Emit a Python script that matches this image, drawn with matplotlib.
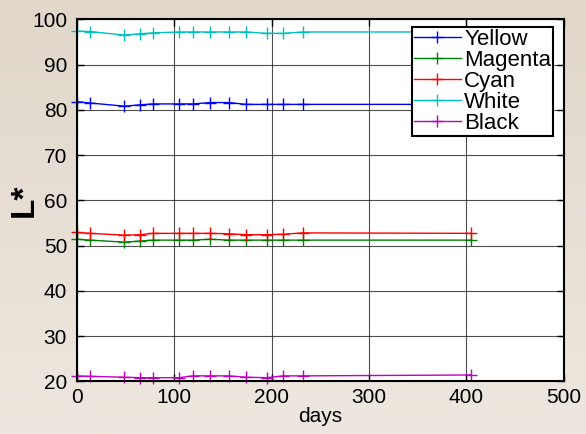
import numpy as np
import matplotlib
matplotlib.use('Agg')
import matplotlib.pyplot as plt

plt.rcParams['font.family'] = ['Liberation Sans', 'DejaVu Sans']

# dias de medicao
days = [0, 14, 49, 65, 78, 105, 119, 137, 156, 174, 195, 212, 232, 405]

# valores de L* por cor
yellow = [81.8, 81.5, 80.8, 81.1, 81.3, 81.3, 81.3, 81.6, 81.6, 81.2, 81.2, 81.2, 81.2, 81.2]
magenta = [51.4, 51.2, 50.75, 51.0, 51.2, 51.2, 51.2, 51.4, 51.2, 51.2, 51.2, 51.2, 51.2, 51.2]
cyan = [52.9, 52.7, 52.3, 52.4, 52.7, 52.7, 52.7, 52.7, 52.6, 52.4, 52.4, 52.5, 52.8, 52.7]
white = [97.4, 97.3, 96.5, 96.8, 97.0, 97.2, 97.2, 97.2, 97.2, 97.2, 96.9, 96.9, 97.2, 97.2]
black = [21.2, 21.1, 20.9, 20.8, 20.8, 20.8, 21.2, 21.2, 21.2, 20.9, 20.8, 21.2, 21.2, 21.4]

series = [('Yellow', yellow, '#0000ff'),
          ('Magenta', magenta, '#008000'),
          ('Cyan', cyan, '#ff0000'),
          ('White', white, '#00bfbf'),
          ('Black', black, '#bf00bf')]

fig = plt.figure(figsize=(5.86, 4.34), dpi=100)

# fundo bege em degrade
bg = fig.add_axes([0, 0, 1, 1], zorder=-10)
grad = np.linspace(0, 1, 256).reshape(-1, 1)
c_top = np.array([225, 215, 202]) / 255
c_bot = np.array([237, 231, 223]) / 255
img = c_top + grad[:, :, None] * (c_bot - c_top)
bg.imshow(img, aspect='auto', extent=[0, 1, 0, 1])
bg.axis('off')

ax = fig.add_axes([0.131, 0.1214, 0.831, 0.8341])
for nome, vals, cor in series:
    ax.plot(days, vals, color=cor, marker='+', markersize=8, linewidth=1,
            markeredgewidth=1, label=nome, clip_on=False)

ax.set_xlim(0, 500)
ax.set_ylim(20, 100)
ax.set_xticks(np.arange(0, 501, 100))
ax.set_yticks(np.arange(20, 101, 10))
ax.grid(True, color='#222222', linewidth=0.8, alpha=0.8)
ax.tick_params(direction='in', top=True, right=True, labelsize=15, length=5, width=1)
ax.tick_params(axis='x', pad=5)
ax.tick_params(axis='y', pad=7)
for s in ax.spines.values():
    s.set_linewidth(1.5)

ax.set_xlabel('days', fontsize=15, labelpad=0)
ax.set_ylabel('L*', fontsize=24, fontweight='bold')
ax.yaxis.set_label_coords(-0.076, 0.5)

leg = ax.legend(loc='upper left', bbox_to_anchor=(0.688, 0.979), fontsize=16,
                labelspacing=0.0, handlelength=2.1, handletextpad=0.15,
                borderpad=0.1, borderaxespad=0, fancybox=False, framealpha=1,
                edgecolor='black')
leg.get_frame().set_linewidth(1.5)

fig.savefig('out.png', dpi=100)
